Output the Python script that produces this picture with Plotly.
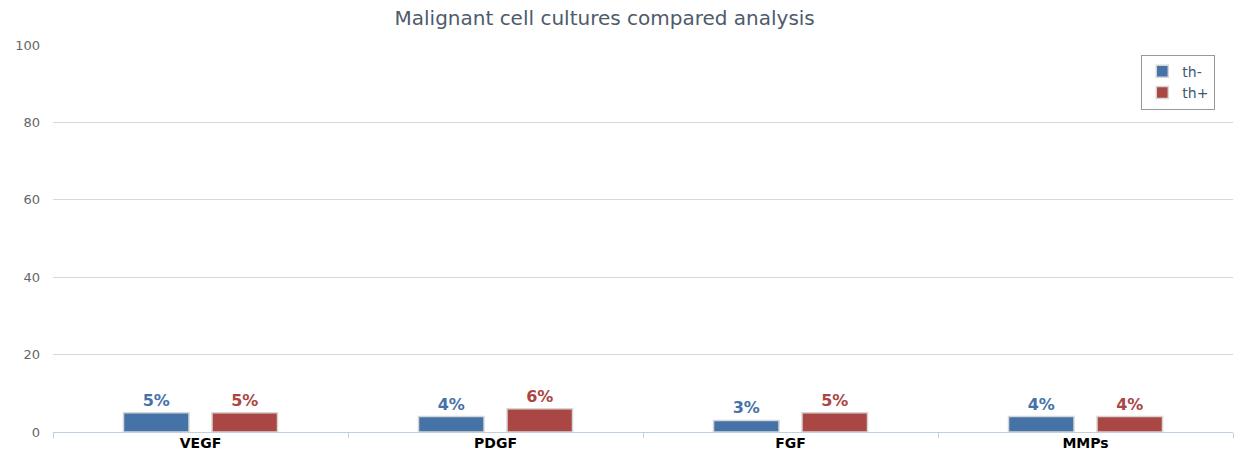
import plotly.graph_objects as go

categories = ["VEGF", "PDGF", "FGF", "MMPs"]
th_minus = [5, 4, 3, 4]
th_plus = [5, 6, 5, 4]
series_names = ["th-", "th+"]
colors = ["#4572A7", "#AA4643"]
title_text = "Malignant cell cultures compared analysis"

fig = go.Figure()
for name, vals, col in zip(series_names, [th_minus, th_plus], colors):
    fig.add_trace(go.Bar(
        x=categories, y=vals, name=name,
        marker=dict(color=col, line=dict(color="#d6d6d6", width=1.5)),
        text=[f"{v}%" for v in vals],
        textposition="outside",
        textfont=dict(family="DejaVu Sans", size=16, color=col, weight="bold"),
        cliponaxis=False,
    ))

fig.update_layout(
    width=1234, height=450,
    margin=dict(l=53, r=1, t=45, b=18),
    paper_bgcolor="white", plot_bgcolor="white",
    barmode="group", bargap=0.40, bargroupgap=0.26,
    title=dict(text=title_text, x=0.49, xanchor="center", y=0.96, yanchor="middle",
               font=dict(family="DejaVu Sans", size=20, color="#4d5b6b")),
    legend=dict(x=0.985, xanchor="right", y=0.975, yanchor="top",
                bgcolor="white", bordercolor="#999999", borderwidth=1,
                font=dict(family="DejaVu Sans", size=14, color="#3e576f"),
                itemwidth=30, tracegroupgap=0),
    showlegend=True,
    font=dict(family="DejaVu Sans"),
)
fig.update_yaxes(range=[0, 100], dtick=20, showgrid=True, gridcolor="#d8d8d8",
                 gridwidth=1, zeroline=False, showline=False,
                 tickfont=dict(family="DejaVu Sans", size=13, color="#666666"),
                 ticklabelstandoff=12, automargin=False)
fig.update_xaxes(showline=True, linecolor="#C0D0E0", linewidth=1,
                 ticks="outside", tickson="boundaries", ticklen=5, tickcolor="#C0D0E0",
                 tickfont=dict(family="DejaVu Sans", size=14, color="black", weight="bold"),
                 ticklabelstandoff=-2,
                 showgrid=False, automargin=False)

fig.write_html("out.html")
